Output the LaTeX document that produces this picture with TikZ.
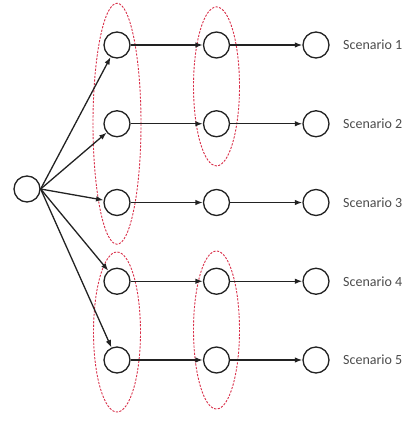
\documentclass[tikz,border=0pt]{standalone}
\usepackage{fontspec}
\setmainfont{Carlito}
\usepackage{tikz}
\usetikzlibrary{arrows.meta,positioning,calc}
\definecolor{ink}{HTML}{222222}
\definecolor{grpred}{HTML}{D9304A}

\begin{document}
\begin{tikzpicture}[
    x=1pt,y=-1pt,
    >={Latex[length=7.5pt,width=5.5pt]},
    node distance=78.75pt and 99.5pt,
    st/.style={circle,draw=ink,line width=1.3pt,minimum size=26pt,inner sep=0pt},
    flow/.style={->,line width=1.3pt,draw=ink},
    grp/.style={draw=grpred,dashed,line width=0.9pt,dash pattern=on 2.2pt off 1.4pt},
    lbl/.style={anchor=west,inner sep=0pt,font=\fontsize{14}{16}\selectfont,text=black!70}]
    \useasboundingbox (0,0) rectangle (406,421);
    \node[st] (root) at (27,189) {};
    \node[st] (a1) at (117,45) {};
    \node[st,on grid,below=of a1] (a2) {};
    \node[st,on grid,below=of a2] (a3) {};
    \node[st,on grid,below=of a3] (a4) {};
    \node[st,on grid,below=of a4] (a5) {};
    \node[st,on grid,right=of a1] (b1) {};
    \node[st,on grid,right=of a2] (b2) {};
    \node[st,on grid,right=of a3] (b3) {};
    \node[st,on grid,right=of a4] (b4) {};
    \node[st,on grid,right=of a5] (b5) {};
    \node[st,on grid,right=of b1] (c1) {};
    \node[st,on grid,right=of b2] (c2) {};
    \node[st,on grid,right=of b3] (c3) {};
    \node[st,on grid,right=of b4] (c4) {};
    \node[st,on grid,right=of b5] (c5) {};
    \node[lbl] (s1) at ([xshift=27pt]c1.center) {Scenario 1};
    \node[lbl] (s2) at ([xshift=27pt]c2.center) {Scenario 2};
    \node[lbl] (s3) at ([xshift=27pt]c3.center) {Scenario 3};
    \node[lbl] (s4) at ([xshift=27pt]c4.center) {Scenario 4};
    \node[lbl] (s5) at ([xshift=27pt]c5.center) {Scenario 5};
    % grouped stages
    \draw[grp] (a2) ellipse [x radius=24,y radius=120.5];
    \draw[grp] ([yshift=28pt]a5) ellipse [x radius=23.5,y radius=80];
    \draw[grp] ([yshift=-2pt]$(b1)!.5!(b2)$) ellipse [x radius=23,y radius=79.5];
    \draw[grp] ([yshift=30pt]b5) ellipse [x radius=23,y radius=79];
    \draw[flow] (root.east) -- (a1);
    \draw[flow] (root.east) -- (a2);
    \draw[flow] (root.east) -- (a3);
    \draw[flow] (root.east) -- (a4);
    \draw[flow] (root.east) -- (a5);
    \draw[flow] (a1) -- (b1);
    \draw[flow] (a2) -- (b2);
    \draw[flow] (a3) -- (b3);
    \draw[flow] (a4) -- (b4);
    \draw[flow] (a5) -- (b5);
    \draw[flow] (b1) -- (c1);
    \draw[flow] (b2) -- (c2);
    \draw[flow] (b3) -- (c3);
    \draw[flow] (b4) -- (c4);
    \draw[flow] (b5) -- (c5);
  \end{tikzpicture}
\end{document}
